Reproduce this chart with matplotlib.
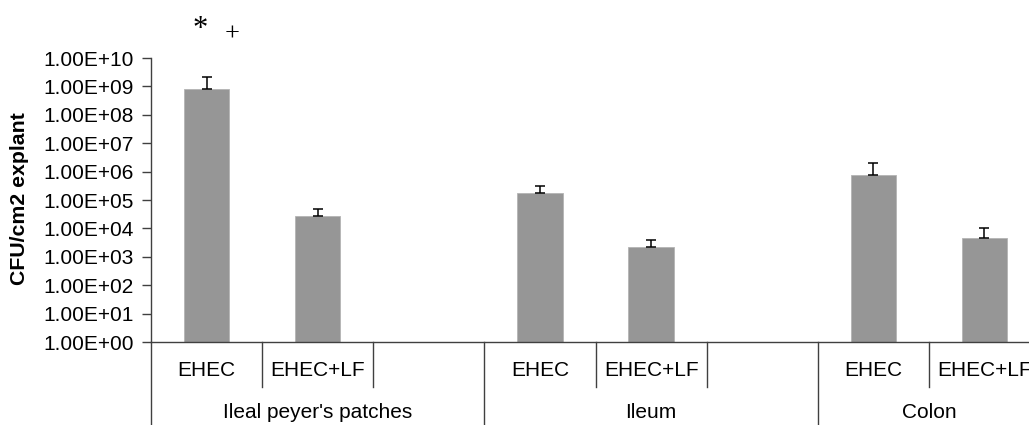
import matplotlib
matplotlib.use('Agg')
import matplotlib.pyplot as plt
import matplotlib.transforms as mtransforms
import numpy as np

plt.rcParams['font.family'] = ['Liberation Sans', 'DejaVu Sans']

groups = ["Ileal peyer's patches", "Ileum", "Colon"]
treatments = ['EHEC', 'EHEC+LF']
cfu_mean = [[8.0e8, 2.7e4], [1.7e5, 2.3e3], [7.9e5, 4.6e3]]
cfu_upper = [[2.1e9, 5.0e4], [3.2e5, 4.0e3], [2.0e6, 1.03e4]]
y_ticks = [10.0 ** k for k in range(0, 11)]

# each group gets one slot per treatment plus an empty spacer slot (not after the last)
slots = []
for g in range(len(groups)):
    for t in range(len(treatments)):
        slots.append(g * 3 + t)
n_slots = len(groups) * 3 - 1

means = np.array(cfu_mean).ravel()
errs = np.array(cfu_upper).ravel() - means

fig = plt.figure(figsize=(10.29, 4.25), dpi=100)
ax = fig.add_axes([151 / 1029, 1 - 342 / 425, 889 / 1029, 284 / 425])

ax.bar(slots, means, width=0.41, color='#969696', edgecolor='#b4b4b4', linewidth=0.6, zorder=2)
ax.errorbar(slots, means, yerr=[np.zeros_like(errs), errs], fmt='none',
            ecolor='black', elinewidth=1.1, capsize=3.6, capthick=1.1, zorder=3)

ax.set_yscale('log')
ax.set_ylim(1, 1e10)
ax.set_xlim(-0.5, n_slots - 0.5)
ax.set_yticks(y_ticks)
ax.set_yticklabels([f'{v:.2E}' for v in y_ticks])
ax.yaxis.set_minor_locator(matplotlib.ticker.NullLocator())
ax.tick_params(axis='y', length=6.5, width=1, color='#404040', labelsize=15, pad=6)
ax.set_xticks([])

for side in ['top', 'right']:
    ax.spines[side].set_visible(False)
for side in ['left', 'bottom']:
    ax.spines[side].set_color('#404040')
    ax.spines[side].set_linewidth(1)

# two-level category axis with separator lines below the plot
trans = mtransforms.blended_transform_factory(ax.transData, ax.transAxes)
for g, name in enumerate(groups):
    start = g * 3 - 0.5
    n_in = len(treatments) + (1 if g < len(groups) - 1 else 0)
    ax.plot([start, start], [0, -0.32], color='#404040', lw=1, transform=trans, clip_on=False)
    for k in range(1, n_in):
        ax.plot([start + k, start + k], [0, -0.158], color='#404040', lw=1,
                transform=trans, clip_on=False)
    for t, lab in enumerate(treatments):
        ax.text(g * 3 + t, -0.102, lab, transform=trans, ha='center', va='center', fontsize=15)
    ax.text(start + n_in / 2, -0.25, name,
            transform=trans, ha='center', va='center', fontsize=15)

ax.text(-0.06, 10 ** 11.0, '*', ha='center', va='center', fontsize=22,
        family='Liberation Serif', clip_on=False)
ax.text(0.23, 10 ** 10.83, '+', ha='center', va='center', fontsize=19,
        family='Liberation Serif', clip_on=False)

fig.text(20 / 1029, 1 - 199 / 425, 'CFU/cm2 explant', rotation=90, ha='center', va='center',
         fontsize=15.3, fontweight='bold')

fig.savefig('out.png', dpi=100)
